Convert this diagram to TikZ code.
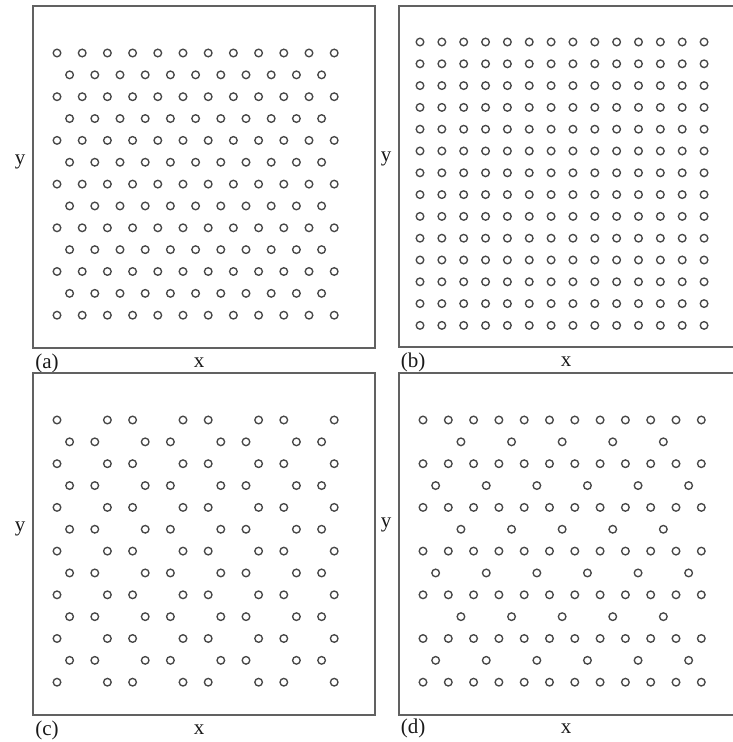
\documentclass[tikz,border=0pt]{standalone}
\usepackage{fontspec}
\setmainfont{Liberation Serif}
\begin{document}
\begin{tikzpicture}[x=1pt,y=-1pt,
  frame/.style={draw=black!62, line width=1.7pt},
  dot/.style={draw=black!72, line width=1.35pt},
  lbl/.style={font=\fontsize{21}{21}\selectfont, text=black!90, inner sep=0pt, anchor=base}]
\clip (0,0) rectangle (733,742);
\fill[white] (0,0) rectangle (733,742);
% ---------- panel (a): triangular lattice
\draw[frame] (33,6) rectangle (375,348);
\foreach \r in {0,...,12}{
  \pgfmathsetmacro\yy{53+21.85*\r}
  \ifodd\r
    \foreach \c in {0,...,10} \draw[dot] ({69.6+25.2*\c},\yy) circle[radius=3.8pt];
  \else
    \foreach \c in {0,...,11} \draw[dot] ({57+25.2*\c},\yy) circle[radius=3.8pt];
  \fi
}
\node[lbl] (ya) at (20,164) {y};
\node[lbl] (la) at (47,368) {(a)};
\node[lbl] (xa) at (199,367) {x};
% ---------- panel (b): square lattice
\draw[frame] (399,6) rectangle (740,347);
\foreach \r in {0,...,13}{
  \foreach \c in {0,...,13} \draw[dot] ({420+21.85*\c},{42+21.8*\r}) circle[radius=3.8pt];
}
\node[lbl] (yb) at (386,161) {y};
\node[lbl] (lb) at (413,367) {(b)};
\node[lbl] (xb) at (566,366) {x};
% ---------- panel (c): honeycomb lattice
\draw[frame] (33,373) rectangle (375,715);
\foreach \r in {0,...,12}{
  \pgfmathsetmacro\yy{420+21.85*\r}
  \ifodd\r
    \foreach \c in {0,1,3,4,6,7,9,10} \draw[dot] ({69.6+25.2*\c},\yy) circle[radius=3.8pt];
  \else
    \foreach \c in {0,2,3,5,6,8,9,11} \draw[dot] ({57+25.2*\c},\yy) circle[radius=3.8pt];
  \fi
}
\node[lbl] (yc) at (20,531) {y};
\node[lbl] (lc) at (47,735) {(c)};
\node[lbl] (xc) at (199,734) {x};
% ---------- panel (d): diluted lattice
\draw[frame] (399,373) rectangle (740,715);
\foreach \r in {0,...,12}{
  \pgfmathsetmacro\yy{420+21.85*\r}
  \pgfmathtruncatemacro\m{mod(\r,4)}
  \ifnum\m=1
    \foreach \c in {1,3,5,7,9} \draw[dot] ({423+25.3*(\c+0.5)},\yy) circle[radius=3.8pt];
  \else\ifnum\m=3
    \foreach \c in {0,2,4,6,8,10} \draw[dot] ({423+25.3*(\c+0.5)},\yy) circle[radius=3.8pt];
  \else
    \foreach \c in {0,...,11} \draw[dot] ({423+25.3*\c},\yy) circle[radius=3.8pt];
  \fi\fi
}
\node[lbl] (yd) at (386,527) {y};
\node[lbl] (ld) at (413,733) {(d)};
\node[lbl] (xd) at (566,733) {x};
\end{tikzpicture}
\end{document}
